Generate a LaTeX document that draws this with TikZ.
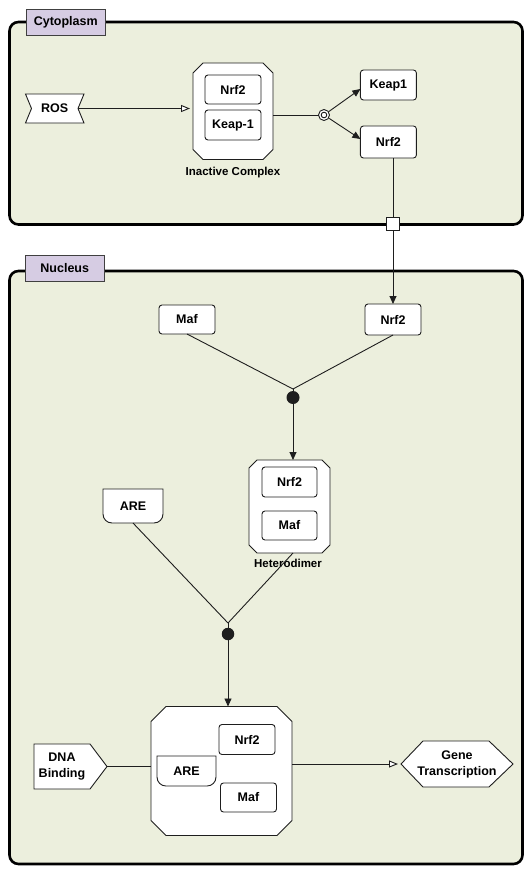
\documentclass[tikz,border=0pt]{standalone}
\usepackage{fontspec}
\setmainfont{Liberation Sans}
\usetikzlibrary{arrows.meta,calc}
\definecolor{compfill}{RGB}{236,239,221}
\definecolor{labfill}{RGB}{214,204,227}
\definecolor{ink}{RGB}{30,30,30}
\newcommand\myboxfont{\fontsize{12.5}{15.5}\selectfont\bfseries}
\newcommand\mycapfont{\fontsize{11.5}{14}\selectfont\bfseries}
\newcommand\cutcorners[2]{%
  \draw[shp] ($(#1.north west)+(#2,0)$) -- ($(#1.north east)+(-#2,0)$) -- ($(#1.north east)+(0,#2)$) -- ($(#1.south east)+(0,-#2)$) -- ($(#1.south east)+(-#2,0)$) -- ($(#1.south west)+(#2,0)$) -- ($(#1.south west)+(0,-#2)$) -- ($(#1.north west)+(0,#2)$) -- cycle;}
\newcommand\nucacid[1]{%
  \draw[shp] (#1.north west) -- (#1.north east) -- ($(#1.south east)+(0,-9)$) .. controls ($(#1.south east)+(0,-4)$) and ($(#1.south east)+(-4,0)$) .. ($(#1.south east)+(-9,0)$) -- ($(#1.south west)+(9,0)$) .. controls ($(#1.south west)+(4,0)$) and ($(#1.south west)+(0,-4)$) .. ($(#1.south west)+(0,-9)$) -- cycle;}
\pgfdeclarelayer{bg}
\pgfdeclarelayer{shapes}
\pgfsetlayers{bg,shapes,main}
\begin{document}
\begin{tikzpicture}[x=1pt,y=-1pt,
  box/.style={draw=ink, fill=white, rounded corners=3pt, line width=0.9pt, minimum width=56pt, minimum height=29pt, inner sep=1pt, outer sep=0pt, font=\myboxfont},
  plain/.style={draw=none, inner sep=1pt, outer sep=0pt, font=\myboxfont},
  shp/.style={draw=ink, fill=white, line width=0.9pt},
  comp/.style={draw=black, fill=compfill, line width=2.6pt, rounded corners=9pt},
  lab/.style={draw=ink!85, fill=labfill, line width=0.8pt, minimum width=78.5pt, minimum height=26pt, inner sep=1pt, font=\myboxfont},
  captext/.style={font=\mycapfont, inner sep=1pt},
  conn/.style={draw=ink, line width=0.9pt},
  farrow/.style={conn, -{Triangle[length=8pt,width=7pt]}},
  oarrow/.style={conn, -{Triangle[open,length=9pt,width=7pt,fill=white]}, shorten >=3pt},
  assoc/.style={circle, fill=ink, minimum size=13pt, inner sep=0pt, outer sep=0pt}
]
\useasboundingbox (0,0) rectangle (532,870);

% compartments
\begin{pgfonlayer}{bg}
\fill[white] (0,0) rectangle (532,870);
\path[comp] (9.5,22) rectangle (522.5,224.5);
\path[comp] (9.5,271) rectangle (522.5,864);
\end{pgfonlayer}
\node[lab] (cytlab) at (65.75,22) {Cytoplasm};
\node[lab] (nuclab) at (64.75,268) {Nucleus};

% ---------- cytoplasm ----------
\node[plain, minimum width=58.5pt, minimum height=29pt] (ros) at (54.75,108.5) {ROS};
\node[plain, minimum width=80pt, minimum height=96.5pt] (ic) at (233,111.25) {};
\node[box] (icnrf) at (233,89.5) {Nrf2};
\node[box, minimum height=30pt] (ickeap) at (233,125) {Keap-1};
\node[captext] (iclab) at (233,173) {Inactive Complex};
\node[circle, draw=ink, fill=white, line width=0.9pt, minimum size=11pt, inner sep=0pt, outer sep=0pt] (dis) at (324,115) {};
\draw[ink, line width=0.9pt] (dis.center) circle[radius=2.8pt];
\node[box, minimum height=30pt] (keap1) at (388.4,85) {Keap1};
\node[box, minimum height=32pt] (cnrf) at (388.4,142) {Nrf2};
\node[draw=ink, fill=white, line width=0.9pt, minimum size=13pt, inner sep=0pt, outer sep=0pt] (trans) at (393,224) {};

\begin{pgfonlayer}{shapes}
\draw[shp] (ros.north west) -- (ros.north east) -- ($(ros.east)+(-6,0)$) -- (ros.south east) -- (ros.south west) -- ($(ros.west)+(6,0)$) -- cycle;
\cutcorners{ic}{10}
\end{pgfonlayer}

\draw[oarrow] ($(ros.east)+(-6,0)$) -- (ros.east -| ic.west);
\draw[conn] (ic.east |- dis) -- (dis);
\draw[farrow] (dis) -- ($(keap1.west)+(0,4)$);
\draw[farrow] (dis) -- ($(cnrf.west)+(0,-3)$);
\draw[conn] (trans |- cnrf.south) -- (trans);

% ---------- nucleus ----------
\node[box, minimum height=31pt] (nnrf) at (393,319.5) {Nrf2};
\node[box] (maf) at (187,319.5) {Maf};
\draw[farrow] (trans) -- (nnrf.north);
\coordinate (j1) at (293,389);
\node[assoc] (a1) at (293,397.5) {};
\draw[conn] (maf.south) -- (j1);
\draw[conn] (nnrf.south) -- (j1);
\draw[conn] (j1) -- (a1);

\node[plain, minimum width=81pt, minimum height=93pt] (het) at (289.5,506.5) {};
\node[box, minimum width=55pt, minimum height=30pt] (hnrf) at (289.5,482) {Nrf2};
\node[box, minimum width=55pt] (hmaf) at (289.5,525.5) {Maf};
\node[captext] (hetlab) at (288,563) {Heterodimer};
\draw[farrow] (a1) -- (a1 |- het.north);

\node[plain, minimum width=60pt, minimum height=34pt] (are) at (133,506) {ARE};
\coordinate (j2) at (228,623);
\node[assoc, minimum size=12.5pt] (a2) at (228,634) {};
\draw[conn] (are.south) -- (j2);
\draw[conn] ($(het.south)+(3.5,0)$) -- (j2);
\draw[conn] (j2) -- (a2);

\node[plain, minimum width=141pt, minimum height=129pt] (big) at (221.5,771) {};
\node[box, minimum height=30pt] (bnrf) at (247,739.5) {Nrf2};
\node[plain, minimum width=59pt, minimum height=30pt] (bare) at (186.5,771) {ARE};
\node[box] (bmaf) at (248.5,797.5) {Maf};
\draw[farrow] (a2) -- (a2 |- big.north);

\node[plain, minimum width=56pt, minimum height=45pt, align=center, font=\fontsize{12.5}{16}\selectfont\bfseries] (dna) at (62,766.5) {DNA\\Binding};
\node[plain, minimum width=112pt, minimum height=46pt, align=center, font=\fontsize{12.5}{16}\selectfont\bfseries] (gene) at (457,764) {Gene\\Transcription};

\begin{pgfonlayer}{shapes}
\cutcorners{het}{8}
\cutcorners{big}{15}
\nucacid{are}
\nucacid{bare}
\draw[shp] (dna.north west) -- (dna.north east) -- ($(dna.east)+(17,0)$) -- (dna.south east) -- (dna.south west) -- cycle;
\draw[shp] ($(gene.north west)+(22,0)$) -- ($(gene.north east)+(-24,0)$) -- (gene.east) -- ($(gene.south east)+(-24,0)$) -- ($(gene.south west)+(22,0)$) -- (gene.west) -- cycle;
\end{pgfonlayer}

\draw[conn] ($(dna.east)+(17,0)$) -- (dna.east -| big.west);
\draw[oarrow] (gene.west -| big.east) -- (gene.west);
\end{tikzpicture}
\end{document}
